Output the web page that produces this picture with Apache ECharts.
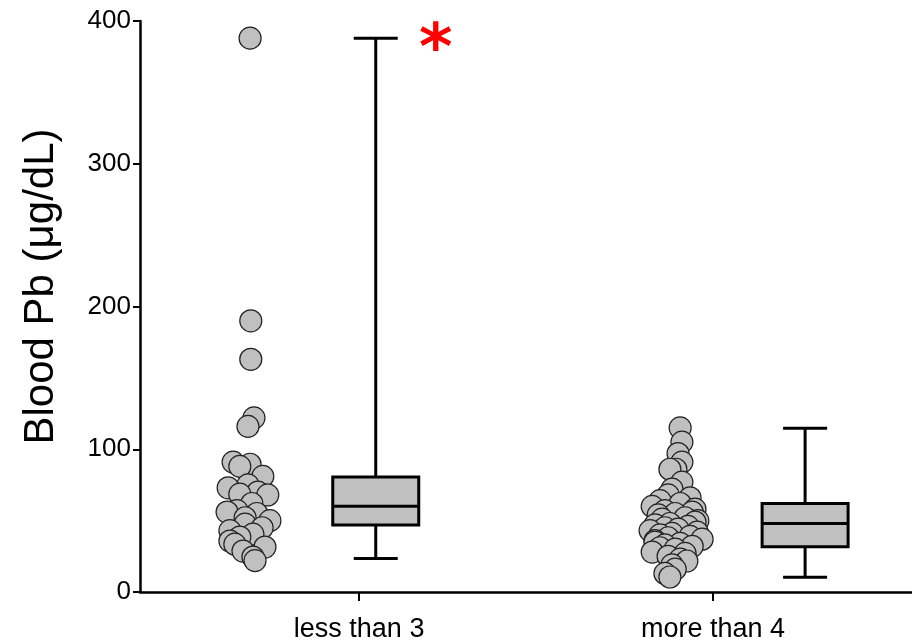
<!DOCTYPE html>
<html>
<head>
<meta charset="utf-8">
<script src="https://cdn.jsdelivr.net/npm/echarts@6/dist/echarts.min.js"></script>
<style>
  html, body { margin: 0; padding: 0; background: #fff; }
  #chart { width: 912px; height: 643px; }
</style>
</head>
<body>
<div id="chart"></div>
<script>
// groups, tick labels
const categories = ["less than 3", "more than 4"];
const yTicks = [0, 100, 200, 300, 400];

// individual points (µg/dL), with horizontal jitter
const lessValues = [388, 190, 163, 122, 116, 91, 89.5, 88, 81, 75, 73, 70, 68.5, 68, 62, 57, 56, 55, 52, 50, 47.5, 45, 43, 40.5, 38.5, 35.7, 33.5, 31.5, 28.7, 24.5, 22];
const lessJitter = [0.006, 0.008, 0.008, 0.017, 0, -0.042, 0.006, -0.023, 0.042, 0, -0.056, 0.028, -0.023, 0.056, 0.011, -0.031, -0.059, 0.025, -0.008, 0.062, -0.008, 0.04, -0.051, 0.014, -0.023, -0.051, -0.037, 0.048, -0.014, 0.014, 0.02];

const moreValues = [115, 105, 97, 91, 86, 86, 77, 72, 68, 66, 64, 62, 60, 58, 57, 56, 55, 54, 52, 51, 50, 49, 48, 47, 46, 45, 44, 43, 42, 41, 40, 39, 38, 37, 36, 35, 34, 33, 32, 31, 30, 28, 27, 25, 23, 21.7, 19, 16, 13, 10.5];
const moreJitter = [0.006, 0.011, 0, 0.011, -0.006, -0.023, 0.011, -0.017, -0.028, 0.034, -0.051, 0.006, -0.073, 0.048, -0.037, 0.04, -0.008, -0.056, 0.02, -0.045, 0.056, 0.048, -0.023, -0.065, 0.028, -0.037, 0, -0.079, 0.054, -0.017, -0.051, 0.034, -0.028, 0.068, -0.065, -0.065, 0.006, -0.037, 0.04, -0.051, -0.008, -0.073, 0.02, -0.028, 0.006, 0.025, -0.017, -0.008, -0.037, -0.023];

// box stats: [min, Q1, median, Q3, max]
const lessBox = [23.5, 47, 60, 80.5, 388];
const moreBox = [10.3, 31.7, 48, 62, 114.7];
const significance = ["*", ""];

// x positions on the value axis (category ticks sit at 1 and 2)
const dotCenters = [0.686, 1.901];
const boxCenters = [1.047, 2.26];

const chart = echarts.init(document.getElementById("chart"));

const font = "Liberation Sans, Arial, sans-serif";

const option = {
  animation: false,
  grid: { left: 140, right: 0, top: 21, bottom: 50 },
  xAxis: {
    type: "value",
    min: 0.381,
    max: 2.562,
    splitLine: { show: false },
    axisLine: { show: true, lineStyle: { color: "#000", width: 2.5 } },
    axisTick: {
      show: true,
      customValues: [1, 2],
      length: 9,
      lineStyle: { color: "#000", width: 2 },
    },
    axisLabel: {
      customValues: [1, 2],
      formatter: (v) => categories[Math.round(v) - 1],
      color: "#000",
      fontFamily: font,
      fontSize: 27,
      margin: 24,
    },
  },
  yAxis: {
    type: "value",
    min: yTicks[0],
    max: yTicks[yTicks.length - 1],
    interval: 100,
    name: "Blood Pb (μg/dL)",
    nameLocation: "middle",
    nameGap: 78,
    nameTextStyle: { color: "#000", fontFamily: font, fontSize: 42, padding: [0, 0, 0, 40] },
    splitLine: { show: false },
    axisLine: { show: true, lineStyle: { color: "#000", width: 2.5 } },
    axisTick: { show: true, length: 7, lineStyle: { color: "#000", width: 2 } },
    axisLabel: {
      color: "#000",
      fontFamily: font,
      fontSize: 26,
      margin: 9,
    },
  },
  series: [
    {
      type: "scatter",
      symbolSize: 22,
      itemStyle: { color: "#c0c0c0", borderColor: "#222", borderWidth: 1.2, opacity: 1 },
      data: lessValues.map((v, i) => [dotCenters[0] + lessJitter[i], v]),
      z: 3,
    },
    {
      type: "scatter",
      symbolSize: 22,
      itemStyle: { color: "#c0c0c0", borderColor: "#222", borderWidth: 1.2, opacity: 1 },
      data: moreValues.map((v, i) => [dotCenters[1] + moreJitter[i], v]),
      z: 3,
    },
    {
      type: "custom",
      data: [
        [boxCenters[0], ...lessBox, 0],
        [boxCenters[1], ...moreBox, 1],
      ],
      encode: { x: 0, y: [1, 2, 3, 4, 5] },
      renderItem: (params, api) => {
        const x = api.value(0);
        const pMin = api.coord([x, api.value(1)]);
        const pQ1 = api.coord([x, api.value(2)]);
        const pMed = api.coord([x, api.value(3)]);
        const pQ3 = api.coord([x, api.value(4)]);
        const pMax = api.coord([x, api.value(5)]);
        const cx = pMin[0];
        const half = 43;
        const cap = 22;
        const stroke = { stroke: "#000", lineWidth: 3 };
        const children = [
          { type: "line", shape: { x1: cx, y1: pMax[1], x2: cx, y2: pQ3[1] }, style: stroke },
          { type: "line", shape: { x1: cx, y1: pQ1[1], x2: cx, y2: pMin[1] }, style: stroke },
          { type: "line", shape: { x1: cx - cap, y1: pMax[1], x2: cx + cap, y2: pMax[1] }, style: stroke },
          { type: "line", shape: { x1: cx - cap, y1: pMin[1], x2: cx + cap, y2: pMin[1] }, style: stroke },
          {
            type: "rect",
            shape: { x: cx - half, y: pQ3[1], width: half * 2, height: pQ1[1] - pQ3[1] },
            style: { fill: "#c0c0c0", stroke: "#000", lineWidth: 3 },
          },
          { type: "line", shape: { x1: cx - half, y1: pMed[1], x2: cx + half, y2: pMed[1] }, style: stroke },
        ];
        const sig = significance[api.value(6)];
        if (sig) {
          children.push({
            type: "text",
            x: cx + 60,
            y: pMax[1] + 14,
            style: {
              text: sig,
              fill: "#ff0000",
              font: "bold 64px DejaVu Sans, sans-serif",
              align: "center",
              verticalAlign: "middle",
            },
          });
        }
        return { type: "group", children };
      },
      z: 2,
    },
  ],
};

chart.setOption(option);
</script>
</body>
</html>
